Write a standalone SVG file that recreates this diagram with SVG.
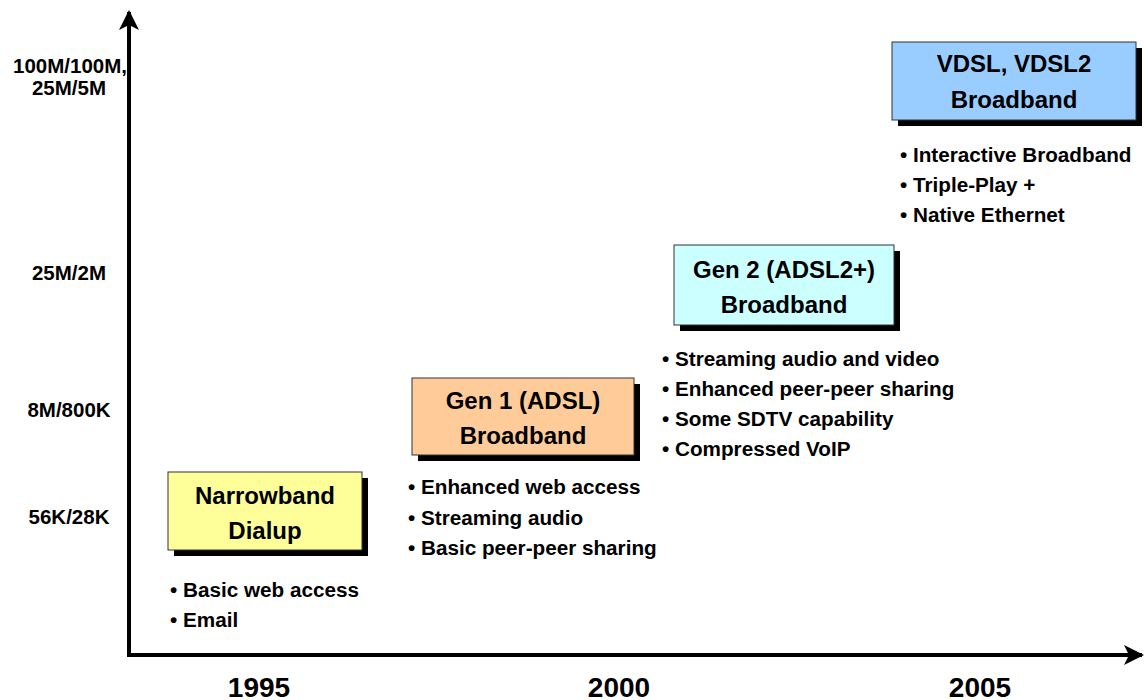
<svg xmlns="http://www.w3.org/2000/svg" width="1144" height="700" viewBox="0 0 1144 700">
<style>
text{font-family:"Liberation Sans",Arial,sans-serif;font-weight:bold;fill:#000}
.ax{font-size:20.5px;text-anchor:middle}
.yr{font-size:28px;text-anchor:middle}
.tt{font-size:24px;text-anchor:middle}
.bl{font-size:20.7px}
.box{stroke:#333;stroke-width:1}
.sh{fill:#000}
</style>
<defs>
<marker id="ah" viewBox="0 0 20 20" refX="18" refY="10" markerWidth="20" markerHeight="20" markerUnits="userSpaceOnUse" orient="auto">
<path d="M0,0 L20,10 L0,20 L5,10 Z" fill="#000"/>
</marker>
</defs>
<g id="axes" stroke="#000" stroke-width="4" fill="none">
<path d="M129,655 L129,12" marker-end="url(#ah)"/>
<path d="M127,655 L1142,655" marker-end="url(#ah)"/>
</g>
<g id="y-labels">
<text class="ax" x="70" y="73">100M/100M,</text>
<text class="ax" x="69" y="95">25M/5M</text>
<text class="ax" x="69" y="280">25M/2M</text>
<text class="ax" x="69" y="417">8M/800K</text>
<text class="ax" x="69" y="524">56K/28K</text>
</g>
<g id="x-labels">
<text class="yr" x="259" y="697">1995</text>
<text class="yr" x="619" y="697">2000</text>
<text class="yr" x="980" y="697">2005</text>
</g>
<g id="narrowband">
<rect class="sh" x="174" y="478" width="194" height="78"/>
<rect class="box" x="168" y="472" width="194" height="78" fill="#ffff99"/>
<text class="tt" x="265" y="504">Narrowband</text>
<text class="tt" x="265" y="539">Dialup</text>
<text class="bl" x="170" y="597">• Basic web access</text>
<text class="bl" x="170" y="627">• Email</text>
</g>
<g id="gen1">
<rect class="sh" x="418" y="384" width="222" height="77"/>
<rect class="box" x="412" y="378" width="222" height="77" fill="#ffcc99"/>
<text class="tt" x="523" y="409">Gen 1 (ADSL)</text>
<text class="tt" x="523" y="444">Broadband</text>
<text class="bl" x="408" y="494">• Enhanced web access</text>
<text class="bl" x="408" y="525">• Streaming audio</text>
<text class="bl" x="408" y="555">• Basic peer-peer sharing</text>
</g>
<g id="gen2">
<rect class="sh" x="680" y="251" width="220" height="80"/>
<rect class="box" x="674" y="245" width="220" height="80" fill="#ccffff"/>
<text class="tt" x="784" y="278">Gen 2 (ADSL2+)</text>
<text class="tt" x="784" y="313">Broadband</text>
<text class="bl" x="662" y="366">• Streaming audio and video</text>
<text class="bl" x="662" y="396">• Enhanced peer-peer sharing</text>
<text class="bl" x="662" y="426">• Some SDTV capability</text>
<text class="bl" x="662" y="456">• Compressed VoIP</text>
</g>
<g id="vdsl">
<rect class="sh" x="898" y="48" width="244" height="78"/>
<rect class="box" x="892" y="42" width="244" height="78" fill="#99ccff"/>
<text class="tt" x="1014" y="72">VDSL, VDSL2</text>
<text class="tt" x="1014" y="108">Broadband</text>
<text class="bl" x="900" y="162">• Interactive Broadband</text>
<text class="bl" x="900" y="192">• Triple-Play +</text>
<text class="bl" x="900" y="222">• Native Ethernet</text>
</g>
</svg>
